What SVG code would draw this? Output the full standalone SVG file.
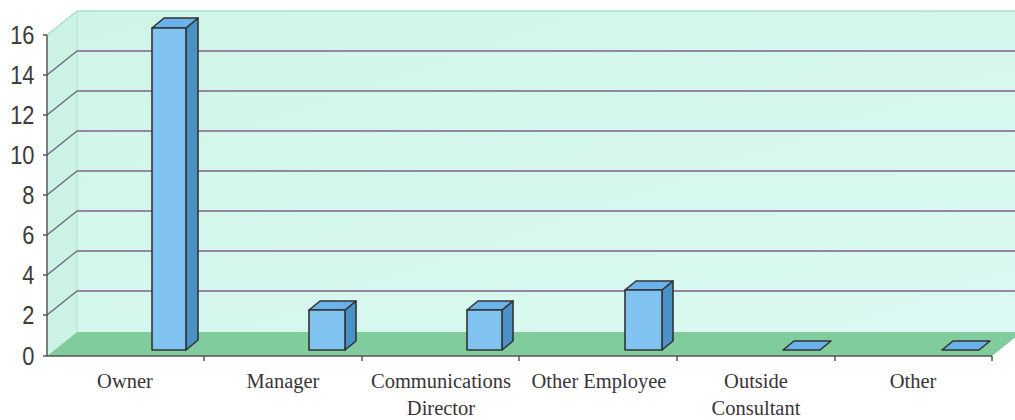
<svg xmlns="http://www.w3.org/2000/svg" width="1015" height="420" viewBox="0 0 1015 420">
<defs>
<style>
.grid{stroke:#80608a;stroke-width:1.5;fill:none}
.lgrid{stroke:#6a6070;stroke-width:1.2;fill:none}
.axis{stroke:#555;stroke-width:1.5;fill:none}
.front{fill:#80c2f0;stroke:#333;stroke-width:1.6;stroke-linejoin:round}
.top{fill:#6cb2ea;stroke:#333;stroke-width:1.6;stroke-linejoin:round}
.side{fill:#4a92c6;stroke:#333;stroke-width:1.6;stroke-linejoin:round}
.num{font-family:"Liberation Sans",Arial,sans-serif;font-size:26px;fill:#3c3c3c;text-anchor:end}
.cat{font-family:"Liberation Serif","Times New Roman",serif;font-size:20.5px;fill:#3a3438;text-anchor:middle}
</style>
<linearGradient id="wall" x1="0" y1="0" x2="1" y2="1">
<stop offset="0" stop-color="#d0f5e8"/>
<stop offset="1" stop-color="#daf9f2"/>
</linearGradient>
</defs>
<rect x="0" y="0" width="1015" height="420" fill="#ffffff"/>
<g id="walls">
<rect x="77" y="11" width="950" height="321" fill="url(#wall)"/>
<polygon points="47,35 77,11 77,332 47,356" fill="#cbf2e4"/>
<polygon points="47,356 992,356 1022,332 77,332" fill="#80cc9c"/>
<line x1="77" y1="11" x2="1015" y2="11" stroke="#a6e0c6" stroke-width="1.5"/>
<line x1="47" y1="35" x2="77" y2="11" stroke="#a6e0c6" stroke-width="1.5"/>
<line x1="77" y1="11" x2="77" y2="332" stroke="#b0e2cc" stroke-width="1"/>
</g>
<g id="gridlines">
<line class="grid" x1="77" y1="51" x2="1015" y2="51"/>
<line class="grid" x1="77" y1="91" x2="1015" y2="91"/>
<line class="grid" x1="77" y1="131" x2="1015" y2="131"/>
<line class="grid" x1="77" y1="171" x2="1015" y2="171"/>
<line class="grid" x1="77" y1="211" x2="1015" y2="211"/>
<line class="grid" x1="77" y1="251" x2="1015" y2="251"/>
<line class="grid" x1="77" y1="291" x2="1015" y2="291"/>
<line class="lgrid" x1="47" y1="75" x2="77" y2="51"/>
<line class="lgrid" x1="47" y1="115" x2="77" y2="91"/>
<line class="lgrid" x1="47" y1="155" x2="77" y2="131"/>
<line class="lgrid" x1="47" y1="195" x2="77" y2="171"/>
<line class="lgrid" x1="47" y1="235" x2="77" y2="211"/>
<line class="lgrid" x1="47" y1="275" x2="77" y2="251"/>
<line class="lgrid" x1="47" y1="315" x2="77" y2="291"/>
</g>
<g id="axes">
<line class="axis" x1="47" y1="35" x2="47" y2="356"/>
<line class="axis" x1="47" y1="356" x2="992" y2="356"/>
<path class="axis" d="M43,35H47M43,75H47M43,115H47M43,155H47M43,195H47M43,235H47M43,275H47M43,315H47M43,356H47"/>
<path class="axis" d="M204,356V361M362,356V361M519,356V361M677,356V361M835,356V361M992,356V361"/>
<g transform="scale(0.84,1)">
<text class="num" x="41" y="44">16</text>
<text class="num" x="41" y="84">14</text>
<text class="num" x="41" y="124">12</text>
<text class="num" x="41" y="164">10</text>
<text class="num" x="41" y="204">8</text>
<text class="num" x="41" y="244">6</text>
<text class="num" x="41" y="284">4</text>
<text class="num" x="41" y="324">2</text>
<text class="num" x="41" y="365">0</text>
</g>
</g>
<g id="bar-owner">
<polygon class="side" points="186,28 198,18 198,340 186,350"/>
<polygon class="top" points="152,28 164,18 198,18 186,28"/>
<rect class="front" x="152" y="28" width="34" height="322"/>
</g>
<g id="bar-manager">
<polygon class="side" points="345,310 356,301 356,341 345,350"/>
<polygon class="top" points="309,310 320,301 356,301 345,310"/>
<rect class="front" x="309" y="310" width="36" height="40"/>
</g>
<g id="bar-communications">
<polygon class="side" points="502,310 513,301 513,341 502,350"/>
<polygon class="top" points="467,310 478,301 513,301 502,310"/>
<rect class="front" x="467" y="310" width="35" height="40"/>
</g>
<g id="bar-other-employee">
<polygon class="side" points="662,290 673,281 673,341 662,350"/>
<polygon class="top" points="625,290 636,281 673,281 662,290"/>
<rect class="front" x="625" y="290" width="37" height="60"/>
</g>
<g id="bar-outside-consultant">
<polygon class="top" points="783,350 794,341 831,341 820,350"/>
</g>
<g id="bar-other">
<polygon class="top" points="942,350 953,341 990,341 979,350"/>
</g>
<g id="labels">
<text class="cat" x="125" y="388">Owner</text>
<text class="cat" x="283" y="388">Manager</text>
<text class="cat" x="441" y="388">Communications</text>
<text class="cat" x="441" y="415">Director</text>
<text class="cat" x="599" y="388">Other Employee</text>
<text class="cat" x="756" y="388">Outside</text>
<text class="cat" x="756" y="415">Consultant</text>
<text class="cat" x="913" y="388">Other</text>
</g>
</svg>
